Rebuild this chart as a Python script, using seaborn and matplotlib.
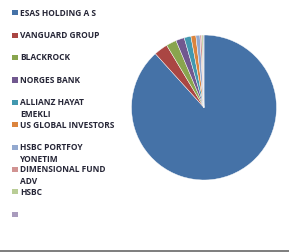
import matplotlib
matplotlib.use("Agg")
import matplotlib.pyplot as plt
import seaborn as sns
from matplotlib.patches import Rectangle

# holders and their share (%)
holders = [
    "ESAS HOLDING A S",
    "VANGUARD GROUP",
    "BLACKROCK",
    "NORGES BANK",
    "ALLIANZ HAYAT\nEMEKLI",
    "US GLOBAL INVESTORS",
    "HSBC PORTFOY\nYONETIM",
    "DIMENSIONAL FUND\nADV",
    "HSBC",
    "",
]
shares = [88.3, 3.1, 2.3, 1.9, 1.5, 1.1, 0.9, 0.4, 0.3, 0.2]
colors = ["#4572A7", "#AA4643", "#89A54E", "#71588F", "#4198AF",
          "#DB843D", "#93A9CF", "#D19392", "#B9CD96", "#A99BBD"]

sns.set_theme(style="white")
plt.rcParams["font.family"] = ["Open Sans", "DejaVu Sans"]

W, H = 289, 252
fig = plt.figure(figsize=(W / 100, H / 100), dpi=100)

# pie
cx, cy, r = 204, 107.5, 72.5
ax = fig.add_axes([(cx - r) / W, (H - cy - r) / H, 2 * r / W, 2 * r / H])
ax.pie(shares, colors=colors, startangle=90, counterclock=False,
       radius=1, wedgeprops=dict(linewidth=0.3, edgecolor="white"))
ax.set_xlim(-1, 1)
ax.set_ylim(-1, 1)
ax.set_aspect("equal")
ax.axis("off")

# legend (left column)
y0, step = 12.7, 22.4
for i, (name, c) in enumerate(zip(holders, colors)):
    y = y0 + i * step
    fig.patches.append(Rectangle((12.5 / W, 1 - (y + 2.6) / H), 5.2 / W, 5.2 / H,
                                 transform=fig.transFigure, facecolor=c,
                                 edgecolor="none"))
    fig.text(19.8 / W, 1 - (y - 4.0) / H, name, fontsize=6.0, fontweight="bold",
             color="#262637", va="top", ha="left", linespacing=1.4)

# bottom border
fig.patches.append(Rectangle((0, 0), 1, 2.5 / H, transform=fig.transFigure,
                             facecolor="#808080", edgecolor="none"))

fig.savefig("out.png", dpi=100)
